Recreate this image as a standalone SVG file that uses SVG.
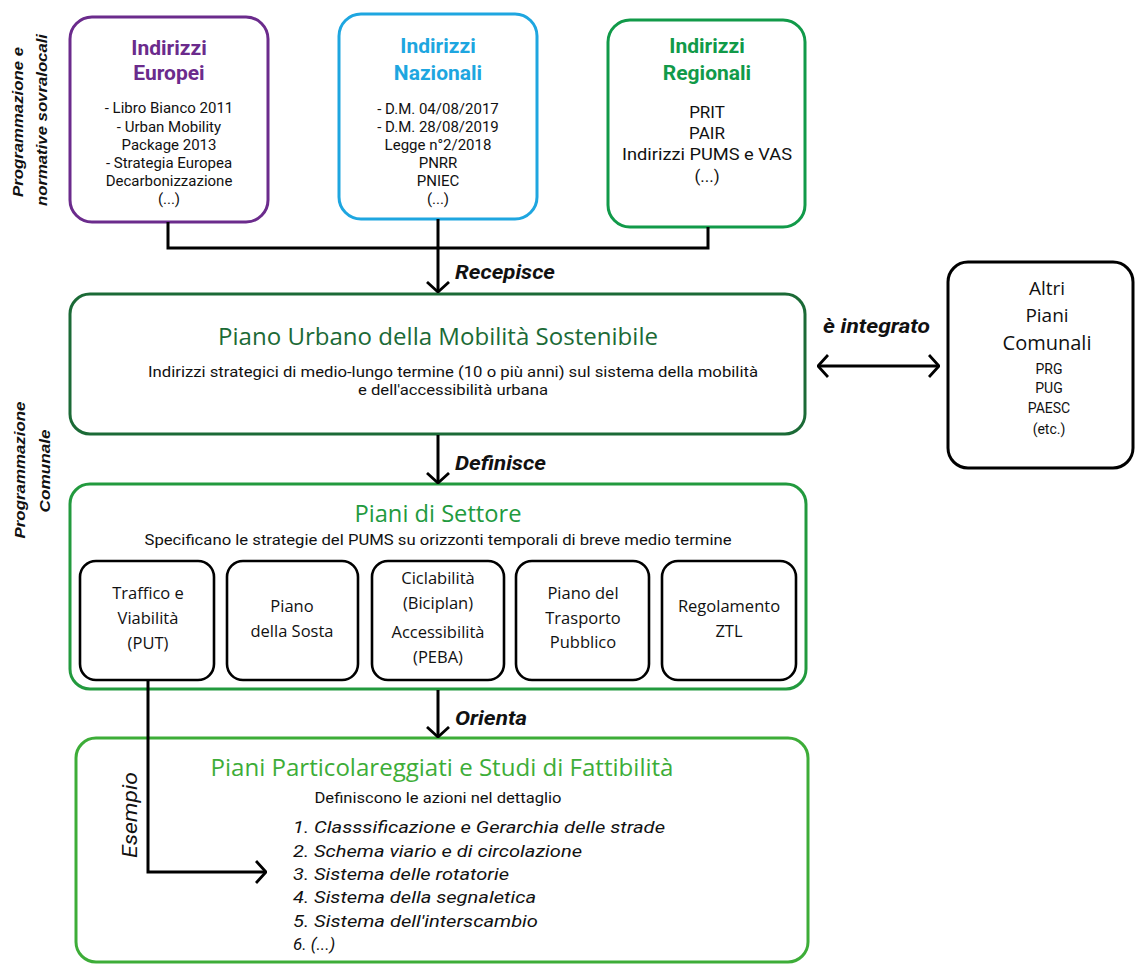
<svg xmlns="http://www.w3.org/2000/svg" width="1135" height="965" viewBox="0 0 1135 965">
<defs>
<marker id="chev" viewBox="0 0 12 24" refX="11" refY="12" markerWidth="12" markerHeight="24" markerUnits="userSpaceOnUse" orient="auto-start-reverse">
<path d="M1,1 L11,12 L1,23" fill="none" stroke="#000" stroke-width="2.8"/>
</marker>
</defs>
<style>
.box{fill:#fff;stroke-width:3}
.inbox{fill:#fff;stroke:#000;stroke-width:2.6}
.conn{stroke:#000;stroke-width:3;fill:none}
.tt{font-family:Roboto,"Liberation Sans",sans-serif;font-weight:bold;font-size:21px;text-anchor:middle}
.tb{font-family:Roboto,"Liberation Sans",sans-serif;font-size:15px;text-anchor:middle;fill:#111}
.hm{font-family:"Open Sans","Liberation Sans",sans-serif;font-size:23px;text-anchor:middle}
.sub{font-family:Roboto,"Liberation Sans",sans-serif;font-size:15px;text-anchor:middle;fill:#111}
.inr{font-family:"Open Sans","Liberation Sans",sans-serif;font-size:16.5px;text-anchor:middle;fill:#111}
.lbl{font-family:Roboto,"Liberation Sans",sans-serif;font-weight:bold;font-style:italic;font-size:20px;fill:#111}
.side{font-family:"Liberation Sans",Arial,sans-serif;font-weight:bold;font-style:italic;font-size:15px;text-anchor:middle;fill:#111}
.lst{font-family:Roboto,"Liberation Sans",sans-serif;font-style:italic;font-size:17px;fill:#111}
</style>

<g id="side-labels">
<text class="side" transform="translate(23,122) rotate(-90)" textLength="150" lengthAdjust="spacingAndGlyphs">Programmazione e</text>
<text class="side" transform="translate(47,120) rotate(-90)" textLength="172" lengthAdjust="spacingAndGlyphs">normative sovralocali</text>
<text class="side" transform="translate(25,470) rotate(-90)" textLength="137" lengthAdjust="spacingAndGlyphs">Programmazione</text>
<text class="side" transform="translate(50,471) rotate(-90)" textLength="83" lengthAdjust="spacingAndGlyphs">Comunale</text>
</g>

<g id="europei">
<rect class="box" x="70" y="17" width="198" height="205" rx="22" stroke="#6b2b8c"/>
<text class="tt" x="169" y="55" fill="#6b2b8c">Indirizzi</text>
<text class="tt" x="169" y="80" fill="#6b2b8c">Europei</text>
<text class="tb" x="169" y="113">- Libro Bianco 2011</text>
<text class="tb" x="169" y="132">- Urban Mobility</text>
<text class="tb" x="169" y="150">Package 2013</text>
<text class="tb" x="169" y="168">- Strategia Europea</text>
<text class="tb" x="169" y="186">Decarbonizzazione</text>
<text class="tb" x="169" y="204">(...)</text>
</g>

<g id="nazionali">
<rect class="box" x="339" y="14" width="198" height="205" rx="22" stroke="#1ea6e0"/>
<text class="tt" x="438" y="53" fill="#1ea6e0">Indirizzi</text>
<text class="tt" x="438" y="80" fill="#1ea6e0">Nazionali</text>
<text class="tb" x="438" y="114">- D.M. 04/08/2017</text>
<text class="tb" x="438" y="132">- D.M. 28/08/2019</text>
<text class="tb" x="438" y="150">Legge n°2/2018</text>
<text class="tb" x="438" y="168">PNRR</text>
<text class="tb" x="438" y="186">PNIEC</text>
<text class="tb" x="438" y="204">(...)</text>
</g>

<g id="regionali">
<rect class="box" x="608" y="20" width="197" height="207" rx="22" stroke="#119a49"/>
<text class="tt" x="707" y="53" fill="#119a49">Indirizzi</text>
<text class="tt" x="707" y="80" fill="#119a49">Regionali</text>
<text class="tb" x="707" y="118" style="font-size:17px">PRIT</text>
<text class="tb" x="707" y="139" style="font-size:17px">PAIR</text>
<text class="tb" x="707" y="160" style="font-size:17px" textLength="170" lengthAdjust="spacingAndGlyphs">Indirizzi PUMS e VAS</text>
<text class="tb" x="707" y="182" style="font-size:17px">(...)</text>
</g>

<g id="pums">
<rect class="box" x="70" y="294" width="735" height="140" rx="20" stroke="#1b6a36"/>
<text class="hm" x="438" y="345" fill="#1b6a36" textLength="440" lengthAdjust="spacingAndGlyphs">Piano Urbano della Mobilità Sostenibile</text>
<text class="sub" x="453" y="377" textLength="610" lengthAdjust="spacingAndGlyphs">Indirizzi strategici di medio-lungo termine (10 o più anni) sul sistema della mobilità</text>
<text class="sub" x="453" y="395" textLength="190" lengthAdjust="spacingAndGlyphs">e dell'accessibilità urbana</text>
</g>

<g id="altri">
<rect class="box" x="948" y="262" width="185" height="206" rx="20" stroke="#000"/>
<text class="inr" x="1047" y="295" style="font-size:19px">Altri</text>
<text class="inr" x="1047" y="322" style="font-size:19px">Piani</text>
<text class="inr" x="1047" y="350" style="font-size:20px">Comunali</text>
<text class="tb" x="1049" y="374" style="font-size:14px">PRG</text>
<text class="tb" x="1049" y="393" style="font-size:14px">PUG</text>
<text class="tb" x="1049" y="413" style="font-size:14px">PAESC</text>
<text class="tb" x="1049" y="434" style="font-size:14px">(etc.)</text>
</g>

<g id="settore">
<rect class="box" x="70" y="484" width="736" height="205" rx="20" stroke="#229a3e"/>
<text class="hm" x="438" y="522" fill="#229a3e" textLength="167" lengthAdjust="spacingAndGlyphs">Piani di Settore</text>
<text class="sub" x="438" y="545" style="font-size:14px" textLength="587" lengthAdjust="spacingAndGlyphs">Specificano le strategie del PUMS su orizzonti temporali di breve  medio termine</text>
</g>

<g id="traffico">
<rect class="inbox" x="80" y="561" width="134" height="119" rx="16"/>
<text class="inr" x="148" y="599">Traffico e</text>
<text class="inr" x="148" y="624">Viabilità</text>
<text class="inr" x="148" y="649">(PUT)</text>
</g>
<g id="sosta">
<rect class="inbox" x="227" y="561" width="131" height="119" rx="16"/>
<text class="inr" x="292" y="612">Piano</text>
<text class="inr" x="292" y="637">della Sosta</text>
</g>
<g id="ciclabilita">
<rect class="inbox" x="372" y="561" width="132" height="119" rx="16"/>
<text class="inr" x="438" y="584">Ciclabilità</text>
<text class="inr" x="438" y="609">(Biciplan)</text>
<text class="inr" x="438" y="638">Accessibilità</text>
<text class="inr" x="438" y="663">(PEBA)</text>
</g>
<g id="trasporto">
<rect class="inbox" x="516" y="561" width="133" height="119" rx="16"/>
<text class="inr" x="583" y="599">Piano del</text>
<text class="inr" x="583" y="624">Trasporto</text>
<text class="inr" x="583" y="648">Pubblico</text>
</g>
<g id="ztl">
<rect class="inbox" x="662" y="561" width="134" height="119" rx="16"/>
<text class="inr" x="729" y="612">Regolamento</text>
<text class="inr" x="729" y="637">ZTL</text>
</g>

<g id="particolareggiati">
<rect class="box" x="76" y="738" width="732" height="224" rx="20" stroke="#3dad38"/>
<text class="hm" x="442" y="776" fill="#3dad38" textLength="463" lengthAdjust="spacingAndGlyphs">Piani Particolareggiati e Studi di Fattibilità</text>
<text class="sub" x="438" y="803" style="font-size:14px" textLength="247" lengthAdjust="spacingAndGlyphs">Definiscono le azioni nel dettaglio</text>
<text class="lst" x="293" y="833" textLength="372" lengthAdjust="spacingAndGlyphs">1. Classsificazione e Gerarchia delle strade</text>
<text class="lst" x="293" y="857" textLength="289" lengthAdjust="spacingAndGlyphs">2. Schema viario e di circolazione</text>
<text class="lst" x="293" y="880" textLength="216" lengthAdjust="spacingAndGlyphs">3. Sistema delle rotatorie</text>
<text class="lst" x="293" y="903" textLength="243" lengthAdjust="spacingAndGlyphs">4. Sistema della segnaletica</text>
<text class="lst" x="293" y="927" textLength="245" lengthAdjust="spacingAndGlyphs">5. Sistema dell'interscambio</text>
<text class="lst" x="293" y="950">6. (...)</text>
</g>

<g id="connectors">
<path class="conn" d="M168,222 V248 H708 V227"/>
<path class="conn" d="M438,219 V292" marker-end="url(#chev)"/>
<path class="conn" d="M438,435 V483" marker-end="url(#chev)"/>
<path class="conn" d="M438,690 V737" marker-end="url(#chev)"/>
<path class="conn" d="M818,366 H939" marker-start="url(#chev)" marker-end="url(#chev)"/>
<path class="conn" d="M148,680 V872 H266" marker-end="url(#chev)"/>
<text class="lbl" x="455" y="279" textLength="100" lengthAdjust="spacingAndGlyphs">Recepisce</text>
<text class="lbl" x="455" y="470" textLength="91" lengthAdjust="spacingAndGlyphs">Definisce</text>
<text class="lbl" x="455" y="725" textLength="72" lengthAdjust="spacingAndGlyphs">Orienta</text>
<text class="lbl" x="823" y="333" textLength="107" lengthAdjust="spacingAndGlyphs">è integrato</text>
<text class="lst" style="font-size:21px" transform="translate(137,858) rotate(-90)" textLength="86" lengthAdjust="spacingAndGlyphs">Esempio</text>
</g>
</svg>
